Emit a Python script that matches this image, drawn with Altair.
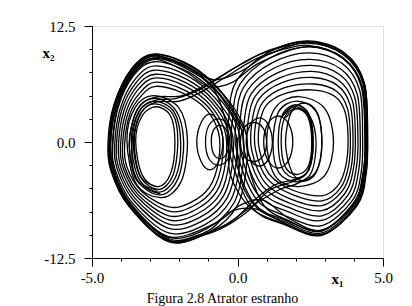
import altair as alt
import pandas as pd

# ---------------- data (x1, x2 pairs) ----------------
# loops of the left lobe band (outer to inner), 13 points each, clockwise from the left
LEFT_BAND = [
    [(-4.43,-0.4),(-4.23,4.0),(-3.64,7.9),(-2.85,9.5),(-1.58,8.2),(-0.55,5.4),(0.24,1.5),(0.31,-2.5),(0.00,-6.8),(-0.96,-9.7),(-2.37,-10.7),(-3.75,-6.8),(-4.33,-3.1)],
    [(-4.36,-0.2),(-4.16,3.9),(-3.60,7.55),(-2.84,9.1),(-1.62,7.85),(-0.62,5.2),(0.13,1.4),(0.19,-2.4),(-0.12,-6.55),(-1.04,-9.3),(-2.37,-10.25),(-3.69,-6.6),(-4.26,-3.05)],
    [(-4.29,-0.4),(-4.10,3.75),(-3.56,7.2),(-2.84,8.65),(-1.66,7.5),(-0.69,4.95),(0.02,1.4),(0.07,-2.4),(-0.24,-6.3),(-1.12,-8.9),(-2.37,-9.8),(-3.64,-6.45),(-4.20,-3.0)],
    [(-4.22,-0.3),(-4.03,3.6),(-3.51,6.8),(-2.83,8.2),(-1.70,7.1),(-0.76,4.7),(-0.09,1.3),(-0.05,-2.3),(-0.36,-6.05),(-1.20,-8.5),(-2.36,-9.3),(-3.58,-6.25),(-4.13,-2.95)],
    [(-4.16,-0.35),(-3.97,3.5),(-3.47,6.45),(-2.83,7.75),(-1.74,6.75),(-0.83,4.5),(-0.21,1.25),(-0.17,-2.25),(-0.48,-5.8),(-1.28,-8.1),(-2.36,-8.85),(-3.53,-6.05),(-4.07,-2.9)],
    [(-4.09,-0.3),(-3.90,3.4),(-3.43,6.1),(-2.82,7.3),(-1.78,6.4),(-0.89,4.3),(-0.32,1.2),(-0.29,-2.2),(-0.59,-5.55),(-1.36,-7.7),(-2.36,-8.4),(-3.47,-5.85),(-4.00,-2.85)],
    [(-4.02,-0.35),(-3.83,3.25),(-3.39,5.75),(-2.81,6.9),(-1.82,6.05),(-0.96,4.05),(-0.43,1.15),(-0.41,-2.15),(-0.71,-5.3),(-1.44,-7.3),(-2.36,-7.95),(-3.41,-5.7),(-3.93,-2.8)],
    [(-3.95,-0.3),(-3.76,3.15),(-3.34,5.35),(-2.81,6.45),(-1.86,5.65),(-1.03,3.85),(-0.54,1.05),(-0.53,-2.05),(-0.83,-5.05),(-1.52,-6.9),(-2.35,-7.45),(-3.36,-5.5),(-3.87,-2.75)],
    [(-3.88,-0.3),(-3.70,3.0),(-3.30,5.0),(-2.80,6.0),(-1.90,5.3),(-1.10,3.6),(-0.65,1.0),(-0.65,-2.0),(-0.95,-4.8),(-1.60,-6.5),(-2.35,-7.0),(-3.30,-5.3),(-3.80,-2.7)],
]

# loops of the right lobe band (outer to inner), 13 points each, clockwise from the left
RIGHT_BAND = [
    [(-0.28,-1.2),(-0.30,2.6),(-0.05,6.5),(1.03,9.6),(2.41,10.9),(3.68,9.6),(4.36,6.35),(4.47,0.5),(4.42,-3.5),(4.10,-6.9),(2.90,-10.05),(1.62,-8.9),(0.48,-7.0)],
    [(-0.15,-1.15),(-0.17,2.5),(0.08,6.2),(1.11,9.05),(2.44,10.25),(3.64,9.0),(4.28,5.95),(4.39,0.5),(4.33,-3.4),(4.02,-6.65),(2.90,-9.5),(1.66,-8.45),(0.56,-6.55)],
    [(-0.02,-1.1),(-0.04,2.4),(0.21,5.9),(1.20,8.55),(2.47,9.6),(3.60,8.45),(4.20,5.55),(4.30,0.45),(4.25,-3.3),(3.94,-6.35),(2.90,-9.0),(1.69,-8.0),(0.64,-6.15)],
    [(0.11,-1.05),(0.09,2.3),(0.34,5.55),(1.28,8.0),(2.50,8.9),(3.56,7.85),(4.11,5.2),(4.22,0.45),(4.16,-3.15),(3.86,-6.1),(2.90,-8.45),(1.73,-7.5),(0.71,-5.7)],
    [(0.24,-1.0),(0.23,2.2),(0.48,5.25),(1.37,7.45),(2.53,8.25),(3.52,7.25),(4.03,4.8),(4.14,0.4),(4.07,-3.05),(3.78,-5.8),(2.90,-7.95),(1.76,-7.05),(0.79,-5.25)],
    [(0.36,-0.95),(0.36,2.1),(0.61,4.95),(1.45,6.9),(2.56,7.6),(3.47,6.65),(3.95,4.4),(4.05,0.4),(3.98,-2.95),(3.69,-5.55),(2.90,-7.4),(1.80,-6.6),(0.87,-4.8)],
    [(0.49,-0.9),(0.49,2.0),(0.74,4.65),(1.53,6.4),(2.59,6.95),(3.43,6.1),(3.87,4.0),(3.97,0.35),(3.90,-2.85),(3.61,-5.25),(2.90,-6.85),(1.83,-6.15),(0.95,-4.4)],
    [(0.62,-0.85),(0.62,1.9),(0.87,4.3),(1.62,5.85),(2.62,6.25),(3.39,5.5),(3.78,3.6),(3.88,0.35),(3.81,-2.7),(3.53,-5.0),(2.90,-6.35),(1.87,-5.65),(1.02,-3.95)],
    [(0.75,-0.8),(0.75,1.8),(1.00,4.0),(1.70,5.3),(2.65,5.6),(3.35,4.9),(3.70,3.2),(3.80,0.3),(3.72,-2.6),(3.45,-4.7),(2.90,-5.8),(1.90,-5.2),(1.10,-3.5)],
]

# closed loops that go round both lobes
CROSS_LOOPS = [
    [(-4.40,-0.4),(-4.20,4.0),(-3.62,7.8),(-2.85,9.35),(-1.70,8.0),(-0.80,6.7),(0.10,7.6),(1.05,9.4),(2.41,10.75),(3.66,9.45),(4.33,6.3),
     (4.45,0.5),(4.40,-3.5),(4.08,-6.85),(2.90,-9.95),(1.60,-8.7),(0.60,-7.2),(-0.30,-7.6),(-1.00,-9.55),(-2.37,-10.6),(-3.74,-6.75),(-4.31,-3.1)],
    [(-4.30,-0.3),(-4.12,3.8),(-3.58,7.3),(-2.84,8.9),(-1.80,7.6),(-1.00,6.0),(-0.20,6.4),(0.80,8.6),(2.45,10.3),(3.62,9.0),(4.25,6.0),
     (4.38,0.4),(4.32,-3.4),(4.00,-6.6),(2.90,-9.5),(1.80,-8.3),(0.90,-6.3),(0.10,-6.8),(-0.80,-8.8),(-2.37,-10.2),(-3.68,-6.6),(-4.24,-3.0)],
]

# open stretches of trajectory that pass from one lobe to the other
TRANSITIONS = [
    [(-2.65,-5.6),(-3.45,-4.2),(-3.72,-0.3),(-3.45,3.5),(-2.85,4.8),(-1.90,5.0),(-1.00,6.3),(0.14,8.4),(1.10,9.9),(2.41,10.85),
     (3.68,9.55),(4.36,6.3),(4.47,0.3),(4.40,-3.4),(4.08,-6.8),(2.90,-10.0),(1.60,-8.8),(0.45,-7.1),(-0.25,-3.5),(-0.28,0.5)],
    [(1.55,2.9),(2.00,4.0),(2.45,3.0),(2.60,0.0),(2.45,-3.0),(2.00,-4.0),(1.30,-4.6),(0.60,-6.2),(-0.14,-8.4),(-1.10,-9.9),
     (-2.37,-10.75),(-3.75,-6.85),(-4.35,-3.1),(-4.45,0.0),(-4.25,4.0),(-3.65,7.8),(-2.85,9.45),(-1.58,8.1),(-0.55,5.3),(0.20,1.5)],
    [(-2.80,-4.8),(-3.35,-3.6),(-3.55,0.2),(-3.30,3.2),(-2.80,4.3),(-2.00,4.4),(-1.30,5.3),(-0.40,7.0),(0.60,8.9),(1.60,10.0),
     (2.45,10.4),(3.62,9.1),(4.28,6.0),(4.40,0.0),(4.30,-3.6),(4.00,-6.5),(2.90,-9.6),(1.70,-8.4),(0.90,-6.8),(0.40,-3.0)],
    [(1.65,2.6),(2.05,3.6),(2.50,2.7),(2.70,0.0),(2.55,-3.2),(2.10,-4.4),(1.40,-5.2),(0.50,-6.9),(-0.40,-8.9),(-1.30,-10.0),
     (-2.37,-10.4),(-3.70,-6.7),(-4.28,-3.0),(-4.36,0.2),(-4.15,3.9),(-3.60,7.4),(-2.85,9.0),(-1.70,7.8),(-0.80,5.6),(-0.35,1.5)],
    [(-2.75,-5.2),(-3.50,-3.9),(-3.62,0.0),(-3.38,3.3),(-2.82,4.5),(-2.10,4.7),(-1.20,5.8),(-0.20,7.8),(0.90,9.6),(2.41,10.65),
     (3.66,9.35),(4.32,6.2),(4.43,0.2),(4.36,-3.5),(4.05,-6.7),(2.90,-9.8),(1.65,-8.6),(0.70,-7.2),(0.10,-4.0),(0.00,0.5)],
    [(1.50,2.6),(1.95,3.8),(2.42,2.9),(2.58,0.0),(2.42,-3.1),(1.95,-4.2),(1.10,-5.2),(0.30,-7.6),(-0.60,-9.4),(-1.50,-10.3),
     (-2.37,-10.55),(-3.73,-6.75),(-4.32,-3.05),(-4.40,0.1),(-4.20,3.95),(-3.62,7.6),(-2.85,9.25),(-1.60,7.95),(-0.65,5.2),(0.10,1.4)],
]

# inner loops of the left lobe: L, UL, T, UR, R, LR, B, BL
LEFT_INNER = [
    [(-3.72,-0.3),(-3.45,3.4),(-2.85,4.7),(-2.12,3.4),(-1.85,0.0),(-2.05,-4.0),(-2.65,-5.7),(-3.42,-4.2)],
    [(-3.65,0.0),(-3.40,3.2),(-2.85,4.4),(-2.17,3.2),(-1.95,-0.2),(-2.13,-3.8),(-2.68,-5.4),(-3.38,-4.0)],
    [(-3.58,-0.2),(-3.35,3.0),(-2.82,4.1),(-2.22,3.0),(-2.05,0.1),(-2.22,-3.6),(-2.70,-5.1),(-3.33,-3.8)],
    [(-3.50,0.1),(-3.28,2.8),(-2.80,3.8),(-2.30,2.8),(-2.15,-0.1),(-2.30,-3.4),(-2.72,-4.8),(-3.27,-3.6)],
    [(-3.80,0.2),(-3.52,3.7),(-2.88,5.0),(-2.02,3.7),(-1.72,0.2),(-1.93,-4.2),(-2.60,-6.0),(-3.48,-4.5)],
]

# inner loops of the right lobe
RIGHT_INNER = [
    [(1.40,0.0),(1.55,3.0),(2.00,4.0),(2.45,3.0),(2.60,0.0),(2.45,-3.0),(2.00,-3.9),(1.55,-2.9)],
    [(1.50,0.2),(1.63,2.7),(2.02,3.6),(2.42,2.7),(2.55,-0.1),(2.42,-2.7),(2.02,-3.5),(1.63,-2.6)],
    [(1.22,-0.2),(1.42,3.3),(2.05,4.4),(2.70,3.3),(2.90,0.1),(2.70,-3.2),(2.05,-4.3),(1.42,-3.3)],
    [(1.00,0.1),(1.30,3.7),(2.10,4.9),(3.00,3.6),(3.30,0.0),(3.00,-3.6),(2.10,-4.8),(1.30,-3.7)],
    [(1.65,0.0),(1.85,3.2),(2.30,4.2),(2.75,3.1),(2.90,-0.2),(2.70,-3.3),(2.25,-4.2),(1.85,-3.1)],
]

# small loops near the middle
CENTRE_LOOPS = [
    [(-1.10,0.0),(-0.98,1.8),(-0.65,2.5),(-0.32,1.8),(-0.20,0.0),(-0.32,-1.8),(-0.65,-2.5),(-0.98,-1.8)],
    [(-0.90,0.1),(-0.82,1.3),(-0.60,1.8),(-0.38,1.3),(-0.30,0.0),(-0.38,-1.3),(-0.60,-1.8),(-0.82,-1.3)],
    [(0.10,0.0),(0.22,1.5),(0.55,2.1),(0.88,1.5),(1.00,0.0),(0.88,-1.5),(0.55,-2.1),(0.22,-1.5)],
    [(0.30,0.1),(0.45,1.9),(0.75,2.6),(1.05,1.9),(1.20,0.0),(1.05,-1.9),(0.75,-2.6),(0.45,-1.9)],
    [(0.90,0.0),(1.05,2.0),(1.40,2.8),(1.75,2.0),(1.90,0.0),(1.75,-2.0),(1.40,-2.8),(1.05,-2.0)],
    [(-1.40,0.0),(-1.25,2.1),(-0.95,3.0),(-0.65,2.1),(-0.50,0.0),(-0.65,-2.1),(-0.95,-3.0),(-1.25,-2.1)],
]

X_TICKS = [-5, -4, -3, -2, -1, 0, 1, 2, 3, 4, 5]
X_LABELS = {-5: "-5.0", 0: "0.0", 5: "5.0"}
Y_TICKS = [-12.5, -10, -7.5, -5, -2.5, 0, 2.5, 5, 7.5, 10, 12.5]
Y_LABELS = {-12.5: "-12.5", 0: "0.0", 12.5: "12.5"}
CAPTION = "Figura 2.8 Atrator estranho"

# ---------------- build tables ----------------
def table(groups, prefix):
    rows = []
    for gi, curve in enumerate(groups):
        for pi, (x, y) in enumerate(curve):
            rows.append({"x": x, "y": y, "curve": f"{prefix}{gi}", "i": pi})
    return pd.DataFrame(rows)

closed_df = pd.concat([
    table(LEFT_BAND, "lb"), table(RIGHT_BAND, "rb"), table(CROSS_LOOPS, "cl"),
    table(LEFT_INNER, "li"), table(RIGHT_INNER, "ri"), table(CENTRE_LOOPS, "cc"),
], ignore_index=True)
open_df = table(TRANSITIONS, "tr")

def label_expr(labels):
    parts = [f"datum.value === {k} ? '{v}'" for k, v in labels.items()]
    return " : ".join(parts) + " : ''"

def major_test(labels):
    vals = ",".join(str(k) for k in labels)
    return f"indexof([{vals}], datum.value) >= 0"

FONT = "Liberation Serif"
LINE_W = 1.3

x_enc = alt.X(
    "x:Q",
    scale=alt.Scale(domain=[-5, 5], nice=False, zero=False),
    axis=alt.Axis(
        values=X_TICKS, labelExpr=label_expr(X_LABELS), grid=False,
        tickSize=alt.condition(major_test(X_LABELS), alt.value(8), alt.value(3)),
        tickColor="black", domainColor="black", labelColor="black",
        labelFont=FONT, labelFontSize=15, labelPadding=4, labelFlush=False, labelOverlap=False,
        title="x\u2081", titleFont=FONT, titleFontSize=15, titleFontWeight="bold",
        titleColor="black", titleX=245, titleY=20, titleAlign="center", titleBaseline="middle",
    ),
)
y_enc = alt.Y(
    "y:Q",
    scale=alt.Scale(domain=[-12.5, 12.5], nice=False, zero=False),
    axis=alt.Axis(
        values=Y_TICKS, labelExpr=label_expr(Y_LABELS), grid=False,
        tickSize=alt.condition(major_test(Y_LABELS), alt.value(8), alt.value(3)),
        tickColor="black", domainColor="black", labelColor="black",
        labelFont=FONT, labelFontSize=15, labelPadding=9, labelFlush=False, labelOverlap=False,
        title="x\u2082", titleFont=FONT, titleFontSize=15, titleFontWeight="bold",
        titleColor="black", titleAngle=0, titleX=-44, titleY=26,
        titleAlign="center", titleBaseline="middle",
    ),
)

closed = alt.Chart(closed_df).mark_line(
    interpolate="cardinal-closed", color="black", strokeWidth=LINE_W
).encode(x=x_enc, y=y_enc, detail="curve:N", order="i:Q")

opened = alt.Chart(open_df).mark_line(
    interpolate="cardinal", color="black", strokeWidth=LINE_W
).encode(x=x_enc, y=y_enc, detail="curve:N", order="i:Q")

chart = alt.layer(closed, opened).properties(
    width=291, height=232,
    title=alt.TitleParams(CAPTION, orient="bottom", anchor="middle", font=FONT,
                          fontSize=14, fontWeight="normal", color="black", dx=-15, offset=6),
    autosize=alt.AutoSizeParams(type="none"),
    padding={"left": 92, "top": 26, "right": 29, "bottom": 48},
).configure_view(stroke="black", strokeWidth=1).configure(background="white")

chart.save("out.html", embed_options={"renderer": "svg", "actions": False})
